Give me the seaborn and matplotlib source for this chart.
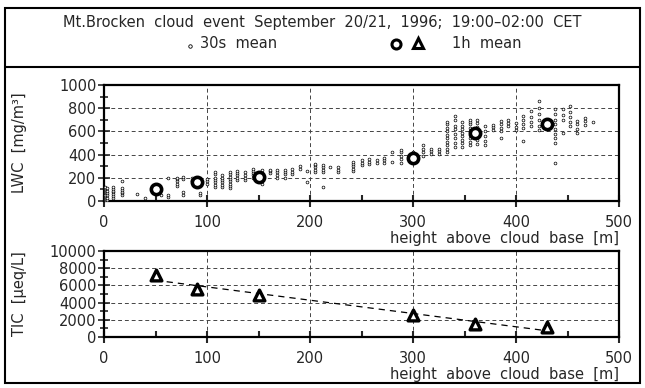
import numpy as np
import pandas as pd
import matplotlib
matplotlib.use("Agg")
import matplotlib.pyplot as plt
from matplotlib.lines import Line2D
from matplotlib.patches import Rectangle
from matplotlib.ticker import MultipleLocator
import seaborn as sns

# ---------------- data ----------------
# 30 s means of LWC: column heights (m) and LWC values (mg/m3) per column
lwc_columns = {
    1: [5, 15, 25, 35, 45, 55, 65, 75, 85, 95, 105, 115, 125],
    3: [10, 30, 50, 70, 90, 110],
    9: [30, 45, 60, 75, 90, 105, 120],
    17: [50, 65, 80, 95, 110, 170],
    32: [60],
    40: [30],
    55: [50],
    62: [35, 55, 200],
    71: [130, 150, 170, 190, 200],
    77: [55, 80, 190, 210],
    85: [170, 185, 200],
    93: [50, 70, 150, 190],
    100: [150, 170, 190],
    108: [120, 140, 160, 180, 200, 230, 250],
    115: [120, 140, 160, 180, 200, 220],
    122: [110, 130, 150, 170, 190, 210, 230, 250],
    129: [180, 200, 220, 240, 260],
    137: [180, 200, 220, 250],
    145: [200, 220, 240, 260, 280],
    153: [150, 180, 240, 270],
    161: [240, 255, 270],
    168: [200, 225, 250, 270],
    176: [200, 230, 250, 270],
    183: [230, 250, 280],
    190: [280, 300],
    197: [160, 260],
    205: [250, 270, 290, 310, 320],
    213: [120, 250, 270, 290, 310],
    219: [290],
    227: [250, 270, 290],
    242: [260, 280, 300, 320, 340],
    250: [310, 330, 350],
    257: [320, 340, 360],
    265: [330, 350],
    272: [330, 350, 375],
    280: [340, 420],
    288: [330, 360, 390, 420, 440],
    300: [350, 390, 420],
    310: [390, 420, 450, 480],
    317: [405, 430, 450],
    325: [405, 430, 450],
    333: [420, 450, 480, 510, 540, 570, 600, 630, 660, 685],
    341: [465, 500, 540, 580, 620, 650, 700, 735],
    348: [465, 500, 530, 560, 590, 620, 650, 685],
    355: [480, 510, 540, 570, 600, 630, 660, 685, 700],
    362: [495, 530, 560, 600, 640, 670, 700],
    370: [484, 520, 560, 600, 643],
    378: [614, 635, 658],
    385: [542, 600, 630, 660, 687],
    392: [643, 670, 700],
    400: [614, 640, 672],
    407: [513, 630, 660, 700, 730],
    415: [643, 680, 720, 774],
    422: [614, 650, 700, 750, 800, 861],
    430: [620, 650, 700],
    438: [325, 500, 540, 580, 620, 660, 700, 750, 790],
    446: [585, 700, 740, 790],
    452: [643, 680, 720, 770, 817],
    459: [585, 620, 660, 687],
    467: [658, 690, 716],
    475: [680],
}
lwc_height = [h for h, vals in lwc_columns.items() for _ in vals]
lwc_value = [v for vals in lwc_columns.values() for v in vals]

# 1 h means
mean_height = [50, 90, 150, 300, 360, 430]
mean_lwc = [100, 165, 205, 375, 590, 665]
mean_tic = [7200, 5580, 4880, 2560, 1470, 1200]

title_text = "Mt.Brocken  cloud  event  September  20/21,  1996;  19:00\u201302:00  CET"
xlabel_text = "height  above  cloud  base  [m]"

df30 = pd.DataFrame({"h": lwc_height, "lwc": lwc_value})
dfm = pd.DataFrame({"h": mean_height, "lwc": mean_lwc, "tic": mean_tic})

# ---------------- figure ----------------
sns.set_style("white")
plt.rcParams["font.family"] = ["DejaVu Sans"]
plt.rcParams["font.size"] = 10.5

W, H = 645, 388
fig = plt.figure(figsize=(W / 100, H / 100), dpi=100)

def fx(px):
    return px / W

def fy(py):
    return 1 - py / H

# outer frame and header separator
fig.add_artist(Rectangle((fx(5), fy(383)), fx(635), (383 - 8) / H, fill=False,
                         edgecolor="black", linewidth=1.5, transform=fig.transFigure))
fig.add_artist(Line2D([fx(5), fx(640)], [fy(67), fy(67)], color="black",
                      linewidth=1.5, transform=fig.transFigure))

fig.text(fx(322), fy(22), title_text, ha="center", va="center", fontsize=10.5)
fig.add_artist(Line2D([fx(190)], [fy(46)], marker="o", markersize=2.5, markerfacecolor="white",
                      markeredgecolor="black", markeredgewidth=0.6, transform=fig.transFigure))
fig.text(fx(200), fy(44), "30s  mean", ha="left", va="center", fontsize=10.5)
fig.add_artist(Line2D([fx(396)], [fy(44)], marker="o", markersize=6.5, markerfacecolor="white",
                      markeredgecolor="black", markeredgewidth=2.2, transform=fig.transFigure))
fig.add_artist(Line2D([fx(418)], [fy(43)], marker="^", markersize=6.5, markerfacecolor="white",
                      markeredgecolor="black", markeredgewidth=2.2, transform=fig.transFigure))
fig.text(fx(452), fy(44), "1h  mean", ha="left", va="center", fontsize=10.5)

ax1 = fig.add_axes([fx(104), fy(201), (619 - 104) / W, (201 - 85) / H])
ax2 = fig.add_axes([fx(104), fy(337), (619 - 104) / W, (337 - 251) / H])

# top panel
sns.scatterplot(data=df30, x="h", y="lwc", ax=ax1, marker="o", s=4,
                facecolor="white", edgecolor="black", linewidth=0.5, zorder=3)
sns.scatterplot(data=dfm, x="h", y="lwc", ax=ax1, marker="o", s=55,
                facecolor="white", edgecolor="black", linewidth=2.6, zorder=4)

# bottom panel
sns.regplot(data=dfm, x="h", y="tic", ax=ax2, scatter=False, ci=None,
            line_kws=dict(color="black", linewidth=0.9, linestyle=(0, (5, 4)), zorder=3))
sns.scatterplot(data=dfm, x="h", y="tic", ax=ax2, marker="^", s=60,
                facecolor="white", edgecolor="black", linewidth=2.4, zorder=4)

for ax, ymax, ymaj, ymin in [(ax1, 1000, 200, 100), (ax2, 10000, 2000, 1000)]:
    ax.set_xlim(0, 500)
    ax.set_ylim(0, ymax)
    ax.xaxis.set_major_locator(MultipleLocator(100))
    ax.xaxis.set_minor_locator(MultipleLocator(50))
    ax.yaxis.set_major_locator(MultipleLocator(ymaj))
    ax.yaxis.set_minor_locator(MultipleLocator(ymin))
    ax.tick_params(axis="x", which="major", direction="inout", length=8, width=1.5,
                   pad=6, labelsize=10.5)
    ax.tick_params(axis="x", which="minor", direction="in", length=4, width=1.5)
    ax.tick_params(axis="y", which="major", direction="inout", length=9, width=1.2,
                   pad=1, labelsize=10.5)
    ax.tick_params(axis="y", which="minor", direction="inout", length=6, width=1.2)
    ax.tick_params(bottom=True, left=True, which="both")
    for sp in ax.spines.values():
        sp.set_visible(True)
        sp.set_linewidth(1.6)
        sp.set_color("black")
    ax.grid(True, which="major", color="#444444", linestyle=(0, (4, 3)), linewidth=0.7)
    ax.set_axisbelow(True)
    ax.set_xlabel(xlabel_text, loc="right", labelpad=1, fontsize=10.5)
    ax.set_facecolor("white")

ax1.set_ylabel("LWC  [mg/m\u00b3]", fontsize=10.5)
ax2.set_ylabel("TIC  [\u03bceq/L]", fontsize=10.5)
ax1.yaxis.set_label_coords(-0.15, 0.5)
ax2.yaxis.set_label_coords(-0.15, 0.5)

fig.savefig("out.png", dpi=100, facecolor="white")
